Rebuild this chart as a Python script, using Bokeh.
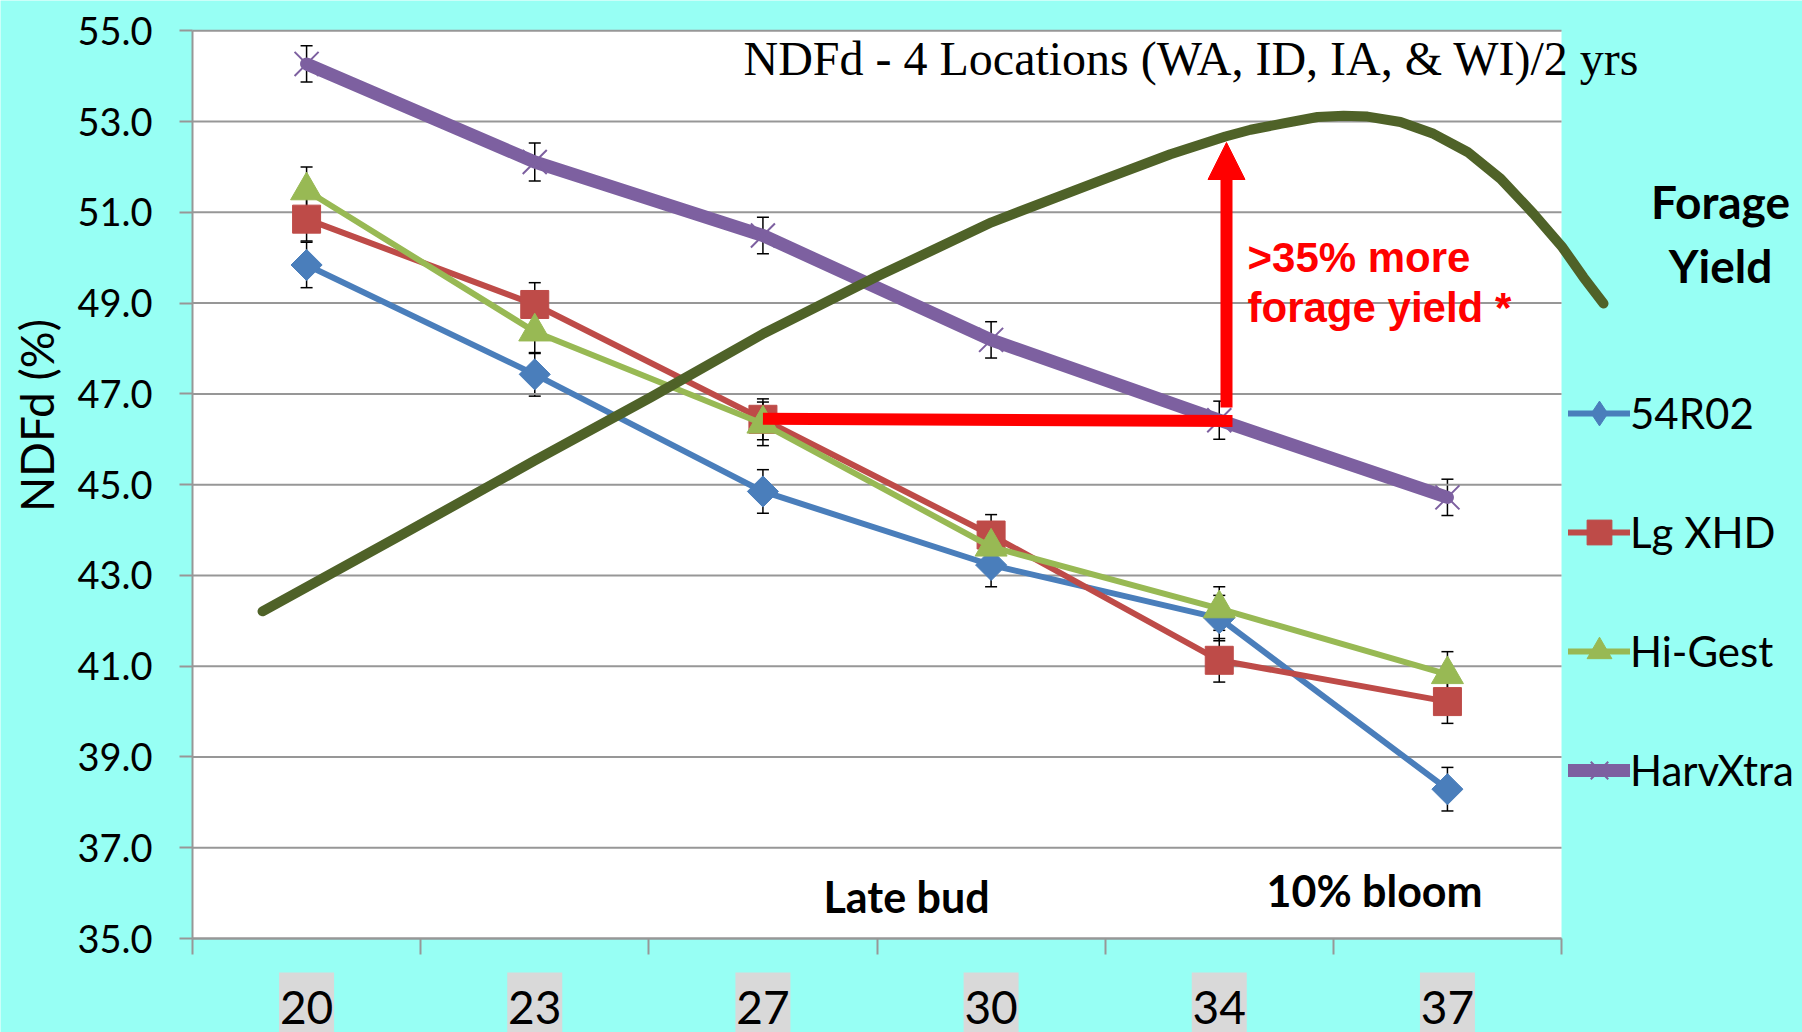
import numpy as np
from bokeh.plotting import figure
from bokeh.models import (Range1d, FixedTicker, PrintfTickFormatter, ColumnDataSource, Whisker,
                          TeeHead, Legend, LegendItem, Label, Arrow, NormalHead)
from bokeh.embed import file_html
from bokeh.resources import INLINE

# ---------------- data ----------------
categories = ["20", "23", "27", "30", "34", "37"]
ndfd_54r02 = [49.84, 47.43, 44.85, 43.23, 42.06, 38.29]
ndfd_lgxhd = [50.85, 48.97, 46.44, 43.89, 41.13, 40.22]
ndfd_higest = [51.48, 48.37, 46.34, 43.63, 42.27, 40.82]
ndfd_harvxtra = [54.27, 52.11, 50.49, 48.19, 46.42, 44.72]
err_54r02 = [0.50, 0.48, 0.48, 0.48, 0.50, 0.48]
err_lgxhd = [0.48, 0.48, 0.45, 0.45, 0.48, 0.48]
err_higest = [0.52, 0.48, 0.48, 0.45, 0.48, 0.50]
err_harvxtra = [0.40, 0.42, 0.40, 0.40, 0.42, 0.40]
y_ticks = [35.0, 37.0, 39.0, 41.0, 43.0, 45.0, 47.0, 49.0, 51.0, 53.0, 55.0]
# hand-drawn "Forage Yield" curve (x in category units, y in NDFd units)
forage_x = [0.807, 1.412, 2.003, 2.507, 3.003, 3.502, 4.002, 4.479, 4.786, 5.027, 5.137, 5.281,
            5.431, 5.545, 5.650, 5.794, 5.939, 6.088, 6.233, 6.377, 6.504, 6.596, 6.684]
forage_y = [42.21, 43.88, 45.54, 46.92, 48.33, 49.59, 50.78, 51.70, 52.28, 52.67, 52.82, 52.96,
            53.10, 53.13, 53.11, 52.99, 52.73, 52.33, 51.74, 50.97, 50.23, 49.57, 48.99]

series_names = ["54R02", "Lg XHD", "Hi-Gest", "HarvXtra"]
series_vals = [ndfd_54r02, ndfd_lgxhd, ndfd_higest, ndfd_harvxtra]
series_errs = [err_54r02, err_lgxhd, err_higest, err_harvxtra]

# ---------------- style ----------------
CYAN = "#97fff4"
GRAY = "#979797"
colors = ["#4a7ebb", "#be4b48", "#98b954", "#7d60a0"]
markers = ["square", "square", "triangle", "x"]
legend_markers = ["diamond", None, None, None]
msizes = [22, 28, 32, 34]
mangles = [np.pi / 4, 0, 0, 0]
lwidths = [6, 6, 6, 13]
FONT = "Lato"

W, H = 1802, 1032
AX_X, TOP_Y, BOT_Y = 192.0, 30.3, 938.0      # pixel positions of plot-area left, 55 and 35
px_x = 228.17
px_y = (BOT_Y - TOP_Y) / 20.0


def dx(X):  # page pixel -> data x
    return 0.5 + (X - AX_X) / px_x


def dy(Y):  # page pixel -> data y
    return 55.0 - (Y - TOP_Y) / px_y


def base(Y, size):  # baseline pixel -> label anchor (empirical text offset)
    return dy(Y - 0.36 * size)


p = figure(width=W, height=H, x_range=Range1d(dx(0), dx(W)), y_range=Range1d(dy(H), dy(0)),
           output_backend="svg", toolbar_location=None,
           min_border_left=0, min_border_right=0, min_border_top=0, min_border_bottom=0,
           background_fill_color=CYAN, border_fill_color=CYAN, outline_line_color=None)
p.xgrid.visible = False
p.ygrid.visible = False

ncat = len(categories)
xpos = list(range(1, ncat + 1))
bounds = [i + 0.5 for i in range(ncat + 1)]

# white plotting area
p.quad(left=[0.5], right=[ncat + 0.5], bottom=[35], top=[55], fill_color="white",
       line_color=None, level="image")
# grey boxes behind category labels
half_box = 27.5 / px_x
p.quad(left=[v - half_box for v in xpos], right=[v + half_box for v in xpos],
       bottom=[dy(H)] * ncat, top=[dy(972)] * ncat, fill_color="#d9d9d9", line_color=None,
       level="image")
# horizontal gridlines limited to the plotting area
p.segment(x0=[0.5] * len(y_ticks), x1=[ncat + 0.5] * len(y_ticks), y0=y_ticks, y1=y_ticks,
          line_color=GRAY, line_width=2)

# axes
yax = p.yaxis[0]
yax.fixed_location = 0.5
yax.ticker = FixedTicker(ticks=y_ticks)
yax.formatter = PrintfTickFormatter(format="%.1f")
yax.bounds = (35, 55)
yax.axis_line_color = GRAY
yax.axis_line_width = 2
yax.major_tick_line_color = GRAY
yax.major_tick_line_width = 2
yax.major_tick_out = 13
yax.major_tick_in = 0
yax.minor_tick_line_color = None
yax.major_label_text_font = FONT
yax.major_label_text_font_size = "38px"
yax.major_label_text_color = "black"
yax.major_label_standoff = 27

xax = p.xaxis[0]
xax.fixed_location = 35
xax.ticker = FixedTicker(ticks=xpos, minor_ticks=bounds)
xax.major_label_overrides = {v: c for v, c in zip(xpos, categories)}
xax.bounds = (0.5, ncat + 0.5)
xax.axis_line_color = GRAY
xax.axis_line_width = 2
xax.minor_tick_line_color = GRAY
xax.minor_tick_line_width = 2
xax.minor_tick_out = 16
xax.minor_tick_in = 0
xax.major_tick_line_color = None
xax.major_tick_out = 0
xax.major_tick_in = 0
xax.major_label_text_font = FONT
xax.major_label_text_font_size = "46px"
xax.major_label_text_color = "black"
xax.major_label_standoff = 36

# series
items = []
for name, vals, errs, col, mk, lmk, ms, ma, lw in zip(series_names, series_vals, series_errs, colors,
                                                       markers, legend_markers, msizes, mangles, lwidths):
    src = ColumnDataSource(dict(x=xpos, y=vals,
                                upper=[v + e for v, e in zip(vals, errs)],
                                lower=[v - e for v, e in zip(vals, errs)]))
    lr = p.line("x", "y", source=src, line_color=col, line_width=lw, line_join="round", line_cap="round")
    sr = p.scatter("x", "y", source=src, marker=mk, size=ms, angle=ma, fill_color=col,
                   line_color=col, line_width=2 if mk == "x" else 1)
    p.add_layout(Whisker(base="x", upper="upper", lower="lower", source=src, line_color="black",
                         line_width=1.5,
                         upper_head=TeeHead(size=12, line_color="black", line_width=1.5),
                         lower_head=TeeHead(size=12, line_color="black", line_width=1.5)))
    key = sr
    if lmk is not None:
        # legend key shows the marker un-rotated, so give it a diamond key of its own
        key = p.scatter("x", "y", source=src, marker=lmk, size=ms, fill_color=col, line_color=col,
                        visible=False)
    items.append(LegendItem(label=name, renderers=[lr, key]))

# forage yield curve
p.line(forage_x, forage_y, line_color="#4f6228", line_width=10, line_cap="round", line_join="round")

# red annotations
p.segment(x0=[3.0], y0=[46.45], x1=[dx(1232)], y1=[46.40], line_color="#ff0000", line_width=12)
p.add_layout(Arrow(x_start=dx(1226), y_start=dy(407), x_end=dx(1226), y_end=dy(142),
                   line_color="#ff0000", line_width=12,
                   end=NormalHead(size=37, fill_color="#ff0000", line_color="#ff0000")))
for txt, Y in [(">35% more", 272), ("forage yield *", 322)]:
    p.add_layout(Label(x=dx(1247), y=base(Y, 42), text=txt, text_font="Liberation Sans",
                       text_font_style="bold", text_font_size="42px", text_color="#ff0000",
                       text_baseline="alphabetic"))

# texts
p.add_layout(Label(x=dx(743), y=base(75, 48), text="NDFd - 4 Locations (WA, ID, IA, & WI)/2 yrs",
                   text_font="Liberation Serif", text_font_size="48px", text_color="black",
                   text_baseline="alphabetic"))
p.add_layout(Label(x=dx(823), y=base(911, 43), text="Late bud", text_font=FONT,
                   text_font_style="bold", text_font_size="43px", text_color="black",
                   text_baseline="alphabetic"))
p.add_layout(Label(x=dx(1266), y=base(905, 43), text="10% bloom", text_font=FONT,
                   text_font_style="bold", text_font_size="43px", text_color="black",
                   text_baseline="alphabetic"))
for txt, Y in [("Forage", 218), ("Yield", 282)]:
    p.add_layout(Label(x=dx(1720), y=base(Y, 46), text=txt, text_font=FONT, text_font_style="bold",
                       text_font_size="46px", text_color="black", text_align="center",
                       text_baseline="alphabetic"))
p.add_layout(Label(x=dx(36), y=dy(415), text="NDFd (%)", angle=np.pi / 2, text_font=FONT,
                   text_font_size="46px", text_color="black", text_align="center",
                   text_baseline="middle"))

# legend: location is measured from the frame's bottom-left corner (= page bottom-left)
legend = Legend(items=items, location=(1568, H - 805), orientation="vertical",
                label_text_font=FONT, label_text_font_size="42px", label_text_color="black",
                glyph_width=62, glyph_height=70, label_height=70, spacing=49, padding=0, margin=0,
                label_standoff=0, background_fill_alpha=0, border_line_alpha=0)
p.add_layout(legend)

open("out.html", "w").write(file_html(p, INLINE))
